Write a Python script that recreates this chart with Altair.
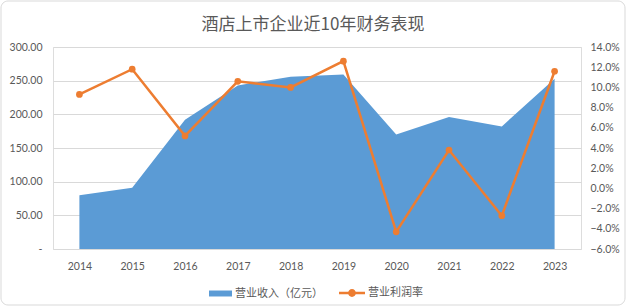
import altair as alt
import pandas as pd

# Hotel listed companies: revenue (100M CNY) and operating margin (%), 2014-2023
years = ["2014", "2015", "2016", "2017", "2018", "2019", "2020", "2021", "2022", "2023"]
revenue = [80, 91, 192, 243, 256, 259, 170, 196, 182, 253]
margin = [9.3, 11.8, 5.2, 10.6, 10.0, 12.6, -4.3, 3.8, -2.7, 11.6]

TITLE = "酒店上市企业近10年财务表现"
REV_NAME = "营业收入（亿元）"
MARGIN_NAME = "营业利润率"
BLUE = "#5B9BD5"
ORANGE = "#ED7D31"
GREY_TEXT = "#595959"
GRID = "#D9D9D9"
NUM_FONT = "Lato"
CJK_FONT = "Noto Sans CJK SC"

df = pd.DataFrame({"year": years, "revenue": revenue, "margin": margin})
df["rev_name"] = REV_NAME
df["margin_name"] = MARGIN_NAME

x_enc = alt.X(
    "year:N",
    sort=years,
    scale=alt.Scale(type="point", padding=0.5),
    axis=alt.Axis(
        title=None, domain=False, ticks=False, grid=False, labelAngle=0,
        labelFont=NUM_FONT, labelFontSize=10.5, labelColor=GREY_TEXT, labelPadding=12,
    ),
)

base = alt.Chart(df)
single = alt.Chart(alt.Data(values=[{"k": 1}]))

# outer rounded frame around the whole figure
frame = single.mark_rect(
    fill="transparent", stroke=GRID, strokeWidth=1, cornerRadius=7
).encode(
    x=alt.value(-52), x2=alt.value(572), y=alt.value(-46), y2=alt.value(258)
)

# chart heading, centred above the plot
heading = single.mark_text(
    font=CJK_FONT, fontSize=17, fontWeight="normal", color=GREY_TEXT,
    align="center", baseline="middle",
).encode(
    x=alt.value(260), y=alt.value(-22), text=alt.value(TITLE)
)

area = base.mark_area(opacity=1, interpolate="linear").encode(
    x=x_enc,
    y=alt.Y(
        "revenue:Q",
        scale=alt.Scale(domain=[0, 300], nice=False),
        axis=alt.Axis(
            title=None, domain=False, ticks=False, values=[0, 50, 100, 150, 200, 250, 300],
            gridColor=GRID, gridWidth=1,
            labelExpr="datum.value == 0 ? '-\u00a0\u00a0\u00a0' : format(datum.value, '.2f')",
            labelFont=NUM_FONT, labelFontSize=10.5, labelColor=GREY_TEXT, labelPadding=11,
        ),
    ),
    fill=alt.Fill(
        "rev_name:N",
        scale=alt.Scale(domain=[REV_NAME], range=[BLUE]),
        legend=alt.Legend(
            title=None, orient="none", legendX=156, legendY=235, padding=0,
            symbolType="M-1,-0.26H1V0.26H-1Z", symbolSize=529, symbolStrokeWidth=0,
            labelFont=CJK_FONT, labelFontSize=11, labelColor=GREY_TEXT, labelOffset=3,
        ),
    ),
)

y2_scale = alt.Scale(domain=[-6, 14], nice=False)
y2_axis = alt.Axis(
    title=None, orient="right", domain=False, ticks=False, grid=False,
    values=[-6, -4, -2, 0, 2, 4, 6, 8, 10, 12, 14],
    labelExpr="format(datum.value, '.1f') + '%'",
    labelFont=NUM_FONT, labelFontSize=10.5, labelColor=GREY_TEXT, labelPadding=9,
)

line = base.mark_line(color=ORANGE, strokeWidth=2.5).encode(
    x=x_enc,
    y=alt.Y("margin:Q", scale=y2_scale, axis=y2_axis),
)

points = base.mark_point(filled=True, size=45, opacity=1).encode(
    x=x_enc,
    y=alt.Y("margin:Q", scale=y2_scale, axis=None),
    color=alt.Color(
        "margin_name:N",
        scale=alt.Scale(domain=[MARGIN_NAME], range=[ORANGE]),
        legend=alt.Legend(
            title=None, orient="none", legendX=286, legendY=233, padding=0,
            symbolType="M-1,-0.1H1V0.1H-1Z M-0.3,0A0.3,0.3 0 1,1 0.3,0A0.3,0.3 0 1,1 -0.3,0Z",
            symbolSize=676, symbolStrokeWidth=0, symbolFillColor=ORANGE,
            labelFont=CJK_FONT, labelFontSize=11, labelColor=GREY_TEXT, labelOffset=3,
        ),
    ),
)

chart = (
    alt.layer(frame, heading, area, line, points)
    .resolve_scale(y="independent")
    .properties(
        width=528,
        height=202,
        autosize=alt.AutoSizeParams(type="none"),
        padding={"left": 53, "top": 47, "right": 45, "bottom": 58},
    )
    .configure_view(stroke=None)
    .configure(background="white")
)

chart.save("out.html", embed_options={"renderer": "svg", "actions": False})
